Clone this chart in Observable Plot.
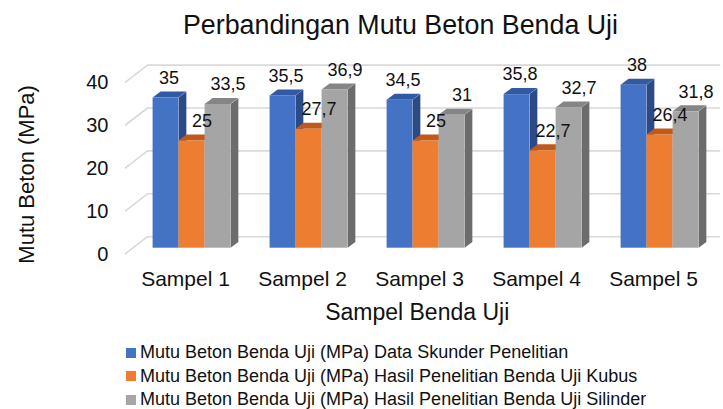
<!DOCTYPE html>
<html>
<head>
<meta charset="utf-8">
<script src="https://cdn.jsdelivr.net/npm/d3@7"></script>
<script src="https://cdn.jsdelivr.net/npm/@observablehq/plot@0.6"></script>
<style>
  html, body { margin: 0; padding: 0; background: #fff; overflow: hidden; }
  #chart { width: 723px; height: 409px; position: relative; font-family: "Liberation Sans", Arial, sans-serif; color: #111; }
  #title { width: 723px; height: 44px; box-sizing: border-box; padding-top: 10px; padding-left: 78px;
           text-align: center; font-size: 26.8px; line-height: 30px; white-space: nowrap; }
  #legend { margin-top: 5px; margin-left: 126px; }
  .leg-swatches { font-family: "Liberation Sans", Arial, sans-serif !important; font-size: 18px !important; color: #111 !important; }
  .leg-swatch { line-height: 23.5px !important; padding-bottom: 0 !important; }
  .leg-swatch > svg { margin-right: 4px !important; }
</style>
</head>
<body>
<div id="chart">
  <div id="title"></div>
  <div id="plot"></div>
  <div id="legend"></div>
</div>
<script>
// ---- data ----
const titleText = "Perbandingan Mutu Beton Benda Uji";
const xTitle = "Sampel Benda Uji";
const yTitle = "Mutu Beton (MPa)";
const samples = ["Sampel 1", "Sampel 2", "Sampel 3", "Sampel 4", "Sampel 5"];
const seriesNames = [
  "Mutu Beton Benda Uji (MPa) Data Skunder Penelitian",
  "Mutu Beton Benda Uji (MPa) Hasil Penelitian Benda Uji Kubus",
  "Mutu Beton Benda Uji (MPa) Hasil Penelitian Benda Uji Silinder"
];
const dataSkunder = [35, 35.5, 34.5, 35.8, 38];
const kubus = [25, 27.7, 25, 22.7, 26.4];
const silinder = [33.5, 36.9, 31, 32.7, 31.8];
const yTicks = [0, 10, 20, 30, 40];

// ---- styles ----
const frontColors = ["#4472C4", "#ED7D31", "#A5A5A5"];
const topColors = ["#3259a3", "#c05a1c", "#858585"];
const sideColors = ["#2c4b86", "#b04f14", "#6c6c6c"];
const gridColor = "#d9d9d9";

// long table built from the arrays
const valueArrays = [dataSkunder, kubus, silinder];
const table = [];
seriesNames.forEach((s, k) => samples.forEach((sm, i) => table.push({sample: sm, series: s, k, value: valueArrays[k][i]})));

document.getElementById("title").textContent = titleText;

// ---- layout ----
const W = 723, H = 292;
const mL = 132.4, mR = 4.35, mT = 32.1, mB = 88.3;
const bw = (W - mL - mR) / samples.length;
const pad0 = 19.6, barW = 26, depthX = 8, depthY = 6;
const labelShift = [3, 10, 10];
const fmt = v => String(v).replace(".", ",");

function build(withStubs) {
  const marks = [
    Plot.ruleY(yTicks, {y: d => d, stroke: gridColor, strokeWidth: 1.6, dx: 14.6, dy: -11.5, insetRight: 13})
  ];
  if (withStubs) {
    marks.push(Plot.vector(yTicks, {
      y: d => d, frameAnchor: "left", length: 27.8, rotate: 52.3, anchor: "start",
      shape: {draw(context, l) { context.moveTo(0, 0); context.lineTo(0, -l); }},
      stroke: gridColor, strokeWidth: 1.6, dx: -7.4, dy: 5.5
    }));
  }
  seriesNames.forEach((s, k) => {
    const rows = table.filter(d => d.k === k);
    const left = pad0 + k * barW;
    const right = bw - left - barW;
    marks.push(
      Plot.barY(rows, {x: "sample", y: "value", fill: sideColors[k], insetLeft: left + barW, insetRight: right - depthX}),
      Plot.barY(rows, {x: "sample", y1: "value", y2: "value", fill: topColors[k], insetLeft: left, insetRight: right, insetTop: -depthY}),
      Plot.barY(rows, {x: "sample", y: "value", fill: "series", insetLeft: left, insetRight: right})
    );
  });
  seriesNames.forEach((s, k) => {
    const rows = table.filter(d => d.k === k);
    const left = pad0 + k * barW;
    marks.push(Plot.text(rows, {
      x: "sample", y: "value", text: d => fmt(d.value),
      dx: left + barW / 2 - bw / 2 + labelShift[k], dy: -20, fontSize: 18, fill: "#111"
    }));
  });
  marks.push(
    Plot.axisY({ticks: yTicks, tickSize: 0, tickPadding: 24.4, dy: 6, label: null, fontSize: 20, fill: "#111"}),
    Plot.axisX({tickSize: 0, tickPadding: 22.4, dx: -6.5, label: null, fontSize: 21, fill: "#111"}),
    Plot.text([yTitle], {text: d => d, frameAnchor: "left", textAnchor: "middle", lineAnchor: "middle", rotate: -90, dx: 26 - mL, dy: 12, fontSize: 22, fill: "#111"}),
    Plot.text([xTitle], {text: d => d, frameAnchor: "bottom", textAnchor: "middle", lineAnchor: "middle", dx: 416.7 - (mL + (W - mL - mR) / 2), dy: 64.4, fontSize: 23, fill: "#111"})
  );
  return Plot.plot({
    width: W, height: H,
    marginLeft: mL, marginRight: mR, marginTop: mT, marginBottom: mB,
    style: {fontFamily: "Liberation Sans, Arial, sans-serif", color: "#111", background: "white", overflow: "visible"},
    x: {domain: samples, paddingInner: 0, paddingOuter: 0},
    y: {domain: [0, 40]},
    color: {domain: seriesNames, range: frontColors},
    marks
  });
}

let plot;
try { plot = build(true); } catch (e) { console.error(e); plot = build(false); }

// 3D faces: skew top and side rectangles (bar groups come in order side, top, front per series)
const degTop = -Math.atan(depthX / depthY) * 180 / Math.PI;
const degSide = -Math.atan(depthY / depthX) * 180 / Math.PI;
const barGroups = Array.from(plot.querySelectorAll('g[aria-label="bar"]'));
barGroups.forEach((g, j) => {
  const role = j % 3;
  g.querySelectorAll("rect").forEach(r => {
    if (role === 1) {
      const yb = +r.getAttribute("y") + +r.getAttribute("height");
      r.setAttribute("transform", `translate(0,${yb}) skewX(${degTop}) translate(0,${-yb})`);
    } else if (role === 0) {
      const x1 = +r.getAttribute("x");
      r.setAttribute("transform", `translate(${x1},0) skewY(${degSide}) translate(${-x1},0)`);
    }
  });
});
document.getElementById("plot").appendChild(plot);

const leg = plot.legend("color", {legend: "swatches", columns: 1, swatchSize: 10, className: "leg"});
document.getElementById("legend").appendChild(leg);
</script>
</body>
</html>
